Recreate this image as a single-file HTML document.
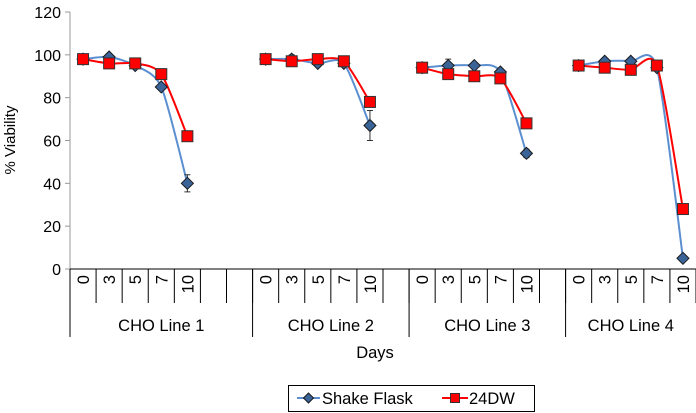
<!DOCTYPE html>
<html><head><meta charset="utf-8"><style>
body{margin:0;background:#fff;}
svg{display:block;font-family:"Liberation Sans",Arial,sans-serif;}
</style></head><body>
<svg id="c" width="696" height="413" viewBox="0 0 696 413"></svg>
<script>
const categories=["0","3","5","7","10","","","0","3","5","7","10","","0","3","5","7","10","","0","3","5","7","10"];
const groupLabels=["CHO Line 1","CHO Line 2","CHO Line 3","CHO Line 4"];
const groupSizes=[7,6,6,5];
const shakeFlask=[98,99,95,85,40,null,null,98,98,96,96,67,null,94,95,95,92,54,null,95,97,97,94,5];
const shakeErr=[1,1,1,1,4,0,0,1,2,1,1,7,0,1,3,1,1,2,0,1,1,1,1,1];
const dw24=[98,96,96,91,62,null,null,98,97,98,97,78,null,94,91,90,89,68,null,95,94,93,95,28];
const yTicks=[0,20,40,60,80,100,120];
const NS="http://www.w3.org/2000/svg";
const svg=document.getElementById('c');
const X0=70,X1=696,Y0=269,Y1=12;
const cw=(X1-X0)/categories.length;
const xs=i=>X0+cw*(i+0.5);
const ys=v=>Y0-(v/120)*(Y0-Y1);
function mk(t,a){const e=document.createElementNS(NS,t);for(const k in a)e.setAttribute(k,a[k]);svg.appendChild(e);return e;}
let ax=mk('line',{x1:X0,y1:Y1,x2:X0,y2:Y0,stroke:'#999','stroke-width':1});

yTicks.forEach(v=>{
 const t=mk('line',{x1:X0-5,x2:X0,y1:ys(v),y2:ys(v),stroke:'#999'});
 
 const l=mk('text',{x:X0-9,y:ys(v)+6,'text-anchor':'end','font-size':16,fill:'#000'});l.textContent=v;
 
});
const yt=mk('text',{x:15,y:140,'text-anchor':'middle','font-size':15,transform:'rotate(-90 15 140)'});yt.textContent='% Viability';

const xa=mk('line',{x1:X0,y1:Y0,x2:X1,y2:Y0,stroke:'#000'});

for(let i=0;i<=categories.length;i++){
 const x=X0+cw*i;const t=mk('line',{x1:x,x2:x,y1:Y0,y2:303,stroke:'#000'});
 
}
categories.forEach((c,i)=>{if(!c)return;
 const x=xs(i)+6,y=275;
 const l=mk('text',{x:x,y:y,'text-anchor':'end','font-size':16.5,transform:`rotate(-90 ${x} ${y})`});l.textContent=c;
 
});
let st=0;
groupSizes.forEach((n,g)=>{
 const a=X0+cw*st,b=X0+cw*(st+n);
 const ln=mk('line',{x1:a,x2:a,y1:Y0,y2:337,stroke:'#000'});
 
 const l=mk('text',{x:(a+b)/2,y:331,'text-anchor':'middle','font-size':16.5});l.textContent=groupLabels[g];
 
 st+=n;
});
const dl=mk('text',{x:375,y:358,'text-anchor':'middle','font-size':16.5});dl.textContent='Days';

function segs(arr){const out=[];let cur=[];arr.forEach((v,i)=>{if(v==null){if(cur.length)out.push(cur);cur=[];}else cur.push([xs(i),ys(v)]);});if(cur.length)out.push(cur);return out;}
function smooth(p){let d=`M${p[0][0]},${p[0][1]}`;for(let i=0;i<p.length-1;i++){const p0=p[i-1]||p[i],p1=p[i],p2=p[i+1],p3=p[i+2]||p2;const t=1/8;
 d+=` C${p1[0]+(p2[0]-p0[0])*t},${p1[1]+(p2[1]-p0[1])*t} ${p2[0]-(p3[0]-p1[0])*t},${p2[1]-(p3[1]-p1[1])*t} ${p2[0]},${p2[1]}`;}return d;}
function series(arr,color,name){segs(arr).forEach(s=>{const p=mk('path',{d:smooth(s),fill:'none',stroke:color,'stroke-width':2});
 });}
series(shakeFlask,'#5b8fd0','shake-flask');
series(dw24,'#ff0000','24dw');
shakeFlask.forEach((v,i)=>{if(v==null)return;const x=xs(i),y=ys(v),e=shakeErr[i]*(Y0-Y1)/120;
 if(shakeErr[i]>1){const eb=mk('path',{d:`M${x},${y-e}V${y+e}M${x-3},${y-e}H${x+3}M${x-3},${y+e}H${x+3}`,stroke:'#333','stroke-width':1,fill:'none'});
 }
 const m=mk('path',{d:`M${x},${y-6}L${x+6},${y}L${x},${y+6}L${x-6},${y}Z`,fill:'#3a6398',stroke:'#1a1a1a','stroke-width':1});
 });
dw24.forEach((v,i)=>{if(v==null)return;const x=xs(i),y=ys(v);
 const m=mk('rect',{x:x-5.5,y:y-5.5,width:11,height:11,fill:'#ff0000',stroke:'#333','stroke-width':1});
 });
const lb=mk('rect',{x:288.5,y:385.5,width:246,height:26,fill:'#fff',stroke:'#000'});

const l1=mk('line',{x1:297,x2:320,y1:398,y2:398,stroke:'#5b8fd0','stroke-width':2});
const d1=mk('path',{d:'M308.5,393L313.5,398L308.5,403L303.5,398Z',fill:'#3a6398',stroke:'#1a1a1a'});
const t1=mk('text',{x:322,y:404,'font-size':16.5});t1.textContent='Shake Flask';
const l2=mk('line',{x1:442,x2:468,y1:398,y2:398,stroke:'#ff0000','stroke-width':2});
const r2=mk('rect',{x:450.5,y:393.5,width:9,height:9,fill:'#ff0000',stroke:'#333'});
const t2=mk('text',{x:469,y:404,'font-size':16.5});t2.textContent='24DW';
</script>
</body></html>
